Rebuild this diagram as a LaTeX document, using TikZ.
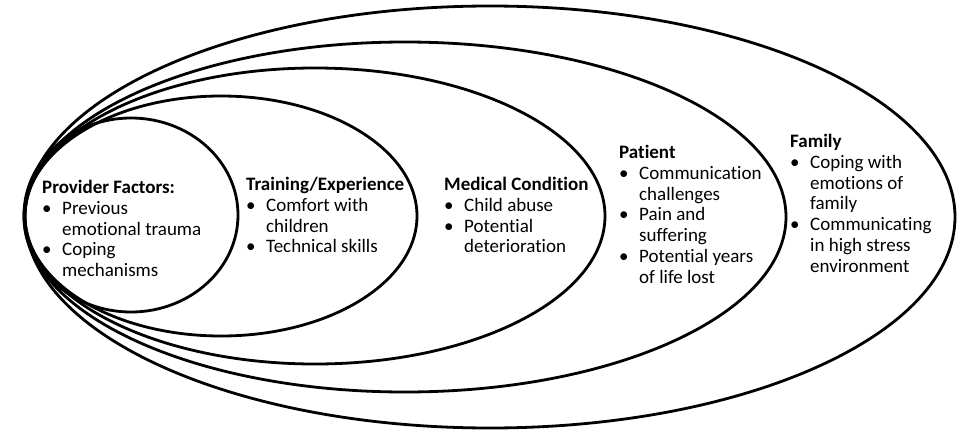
\documentclass[tikz,border=0pt]{standalone}
\usepackage{fontspec}
\setmainfont[Ligatures=CommonOff]{Carlito}
\newcommand{\bul}{\makebox[20pt][l]{\textbullet}}
\newcommand{\ind}{\hspace*{20pt}}
\tikzset{
  ring/.style={draw, line width=2.8pt},
  lbl/.style={anchor=north west, align=left, inner sep=0pt,
              font=\fontsize{19}{20.8}\selectfont}
}

\begin{document}
\begin{tikzpicture}[x=1pt,y=-1pt]
        \useasboundingbox (0,0) rectangle (960,431);
        % Draw rings, inner to outer
        \draw [ring] (131,215) ellipse (107 and 97);
        \draw [ring] (221,216) ellipse (196 and 120);
        \draw [ring] (315,216) ellipse (290 and 148);
        \draw [ring] (405,217) ellipse (381 and 175);
        \draw [ring] (490,217) ellipse (465 and 211);
        % Labels
        \node [lbl] (provider) at (42,180) {\textbf{Provider Factors:}\\
                \bul Previous\\ \ind emotional trauma\\
                \bul Coping\\ \ind mechanisms};
        \node [lbl] (training) at (246,177) {\textbf{Training/Experience}\\
                \bul Comfort with\\ \ind children\\
                \bul Technical skills};
        \node [lbl] (medical) at (444,177) {\textbf{Medical Condition}\\
                \bul Child abuse\\
                \bul Potential\\ \ind deterioration};
        \node [lbl] (patient) at (619,145) {\textbf{Patient}\\
                \bul Communication\\ \ind challenges\\
                \bul Pain and\\ \ind suffering\\
                \bul Potential years\\ \ind of life lost};
        \node [lbl] (family) at (790,134) {\textbf{Family}\\
                \bul Coping with\\ \ind emotions of\\ \ind family\\
                \bul Communicating\\ \ind in high stress\\ \ind environment};
\end{tikzpicture}
\end{document}
